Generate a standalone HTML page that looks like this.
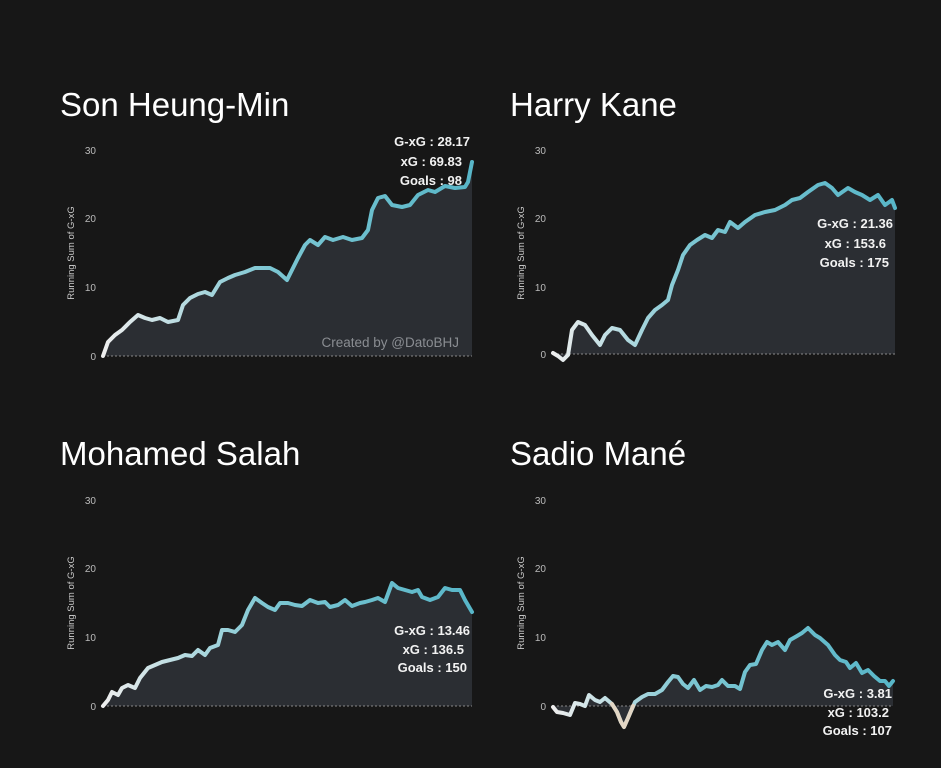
<!DOCTYPE html>
<html><head><meta charset="utf-8"><style>
body{margin:0;background:#171717;}
svg{display:block}
.t{font-family:"Liberation Sans",sans-serif;fill:#fff;font-size:33px;}
.k{font-family:"Liberation Sans",sans-serif;fill:#bbb;font-size:10px;text-anchor:end}
.a{font-family:"Liberation Sans",sans-serif;fill:#ccc;font-size:9.5px;text-anchor:middle}
.s{font-family:"Liberation Sans",sans-serif;fill:#f2f2f2;font-size:13px;text-anchor:end;font-weight:bold}
.ln{fill:none;stroke-width:4;stroke-linejoin:round;stroke-linecap:round}
.ar{fill:#2b2e33}
.z{stroke:#888;stroke-width:1;stroke-dasharray:2 2}
</style></head><body>
<svg width="941" height="768" viewBox="0 0 941 768">
<defs>
<linearGradient id="g1" gradientUnits="userSpaceOnUse" x1="103" y1="0" x2="472" y2="0"><stop offset="0" stop-color="#eeeeee"/><stop offset="0.45" stop-color="#7cc6d2"/><stop offset="1" stop-color="#58b6c8"/></linearGradient>
<linearGradient id="g2" gradientUnits="userSpaceOnUse" x1="553" y1="0" x2="895" y2="0"><stop offset="0" stop-color="#eeeeee"/><stop offset="0.4" stop-color="#7cc6d2"/><stop offset="1" stop-color="#58b6c8"/></linearGradient>
</defs>
<rect width="941" height="768" fill="#171717"/>
<text class="t" x="60" y="116">Son Heung-Min</text>
<text class="t" x="510" y="116">Harry Kane</text>
<text class="t" x="60" y="465">Mohamed Salah</text>
<text class="t" x="510" y="465">Sadio Mané</text>

<!-- Son -->
<g>
<text class="k" x="96" y="154">30</text><text class="k" x="96" y="222">20</text><text class="k" x="96" y="291">10</text><text class="k" x="96" y="360">0</text>
<text class="a" transform="translate(74,253) rotate(-90)">Running Sum of G-xG</text>
<polygon class="ar" points="103,356 108,342 115,335 122,330 130,322 138,315 145,318 152,320 160,318 168,322 178,320 183,305 190,298 198,294 205,292 212,295 220,282 228,278 235,275 245,272 255,268 262,268 270,268 278,272 287,280 292,270 298,258 305,245 310,240 318,245 325,237 333,240 343,237 352,240 362,238 368,230 372,210 378,198 385,196 392,205 402,207 410,205 418,195 428,190 435,192 445,186 455,188 465,187 468,182 472,162 472,356"/>
<line class="z" x1="103" y1="356" x2="472" y2="356"/>
<polyline class="ln" stroke="url(#g1)" points="103,356 108,342 115,335 122,330 130,322 138,315 145,318 152,320 160,318 168,322 178,320 183,305 190,298 198,294 205,292 212,295 220,282 228,278 235,275 245,272 255,268 262,268 270,268 278,272 287,280 292,270 298,258 305,245 310,240 318,245 325,237 333,240 343,237 352,240 362,238 368,230 372,210 378,198 385,196 392,205 402,207 410,205 418,195 428,190 435,192 445,186 455,188 465,187 468,182 472,162"/>
<text class="s" x="470" y="146">G-xG : 28.17</text><text class="s" x="462" y="166">xG : 69.83</text><text class="s" x="462" y="185">Goals : 98</text>
<text x="459" y="347" style="font-family:'Liberation Sans',sans-serif;font-size:13.5px;fill:#8a8d92;text-anchor:end">Created by @DatoBHJ</text>
</g>

<!-- Kane -->
<g>
<text class="k" x="546" y="154">30</text><text class="k" x="546" y="222">20</text><text class="k" x="546" y="291">10</text><text class="k" x="546" y="358">0</text>
<text class="a" transform="translate(524,253) rotate(-90)">Running Sum of G-xG</text>
<polygon class="ar" points="553,353 558,356 563,360 568,355 572,330 578,322 585,325 592,335 600,345 605,335 612,328 620,330 628,340 635,345 642,330 648,318 655,310 662,305 668,300 672,285 678,270 683,255 690,245 697,240 705,235 712,238 718,230 725,232 730,222 738,228 745,222 755,215 765,212 775,210 785,205 792,200 800,198 808,192 818,185 825,183 832,188 838,195 848,188 855,192 862,195 870,200 878,195 885,205 892,200 895,208 895,354 553,354"/>
<line class="z" x1="553" y1="354" x2="895" y2="354"/>
<polyline class="ln" stroke="url(#g2)" points="553,353 558,356 563,360 568,355 572,330 578,322 585,325 592,335 600,345 605,335 612,328 620,330 628,340 635,345 642,330 648,318 655,310 662,305 668,300 672,285 678,270 683,255 690,245 697,240 705,235 712,238 718,230 725,232 730,222 738,228 745,222 755,215 765,212 775,210 785,205 792,200 800,198 808,192 818,185 825,183 832,188 838,195 848,188 855,192 862,195 870,200 878,195 885,205 892,200 895,208"/>
<text class="s" x="893" y="228">G-xG : 21.36</text><text class="s" x="886" y="248">xG : 153.6</text><text class="s" x="889" y="267">Goals : 175</text>
</g>

<!-- Salah -->
<g>
<text class="k" x="96" y="504">30</text><text class="k" x="96" y="572">20</text><text class="k" x="96" y="641">10</text><text class="k" x="96" y="710">0</text>
<text class="a" transform="translate(74,603) rotate(-90)">Running Sum of G-xG</text>
<polygon class="ar" points="103,706 108,700 112,692 118,695 122,688 128,685 135,688 140,678 148,668 155,665 162,662 170,660 178,658 185,655 192,656 198,650 205,655 210,648 218,645 222,630 228,630 235,632 242,625 248,610 255,598 262,603 268,607 275,610 280,603 288,603 295,605 302,606 310,600 318,603 325,602 330,607 338,605 345,600 352,606 360,603 365,602 372,600 378,598 385,602 392,583 398,588 405,590 412,592 418,590 422,597 430,600 438,597 445,588 452,590 460,590 465,600 472,612 472,706"/>
<line class="z" x1="103" y1="706" x2="472" y2="706"/>
<polyline class="ln" stroke="url(#g1)" points="103,706 108,700 112,692 118,695 122,688 128,685 135,688 140,678 148,668 155,665 162,662 170,660 178,658 185,655 192,656 198,650 205,655 210,648 218,645 222,630 228,630 235,632 242,625 248,610 255,598 262,603 268,607 275,610 280,603 288,603 295,605 302,606 310,600 318,603 325,602 330,607 338,605 345,600 352,606 360,603 365,602 372,600 378,598 385,602 392,583 398,588 405,590 412,592 418,590 422,597 430,600 438,597 445,588 452,590 460,590 465,600 472,612"/>
<text class="s" x="470" y="635">G-xG : 13.46</text><text class="s" x="464" y="654">xG : 136.5</text><text class="s" x="467" y="672">Goals : 150</text>
</g>

<!-- Mane -->
<g>
<text class="k" x="546" y="504">30</text><text class="k" x="546" y="572">20</text><text class="k" x="546" y="641">10</text><text class="k" x="546" y="710">0</text>
<text class="a" transform="translate(524,603) rotate(-90)">Running Sum of G-xG</text>
<polygon class="ar" points="553,707 557,712 563,713 570,715 575,703 580,704 585,706 589,695 595,700 600,702 605,698 612,704 617,712 621,722 624,727 628,718 635,702 642,697 648,694 655,694 662,690 668,682 673,676 678,677 683,684 688,688 694,680 700,690 706,686 712,687 718,685 722,680 728,686 735,686 740,689 745,672 750,665 756,664 762,650 767,642 772,645 778,642 785,650 790,640 797,636 802,633 808,628 815,635 820,638 828,645 835,655 840,660 846,662 850,668 856,663 862,673 868,670 874,676 880,681 885,681 889,686 893,681 893,706 553,706"/>
<line class="z" x1="553" y1="706" x2="893" y2="706"/>
<polyline class="ln" stroke="url(#g2)" points="553,707 557,712 563,713 570,715 575,703 580,704 585,706 589,695 595,700 600,702 605,698 612,704 617,712 621,722 624,727 628,718 635,702 642,697 648,694 655,694 662,690 668,682 673,676 678,677 683,684 688,688 694,680 700,690 706,686 712,687 718,685 722,680 728,686 735,686 740,689 745,672 750,665 756,664 762,650 767,642 772,645 778,642 785,650 790,640 797,636 802,633 808,628 815,635 820,638 828,645 835,655 840,660 846,662 850,668 856,663 862,673 868,670 874,676 880,681 885,681 889,686 893,681"/>
<polyline class="ln" stroke="#e2d6c4" points="612,704 617,712 621,722 624,727 628,718 633,706"/>
<text class="s" x="892" y="698">G-xG : 3.81</text><text class="s" x="889" y="717">xG : 103.2</text><text class="s" x="892" y="735">Goals : 107</text>
</g>
</svg>
</body></html>
